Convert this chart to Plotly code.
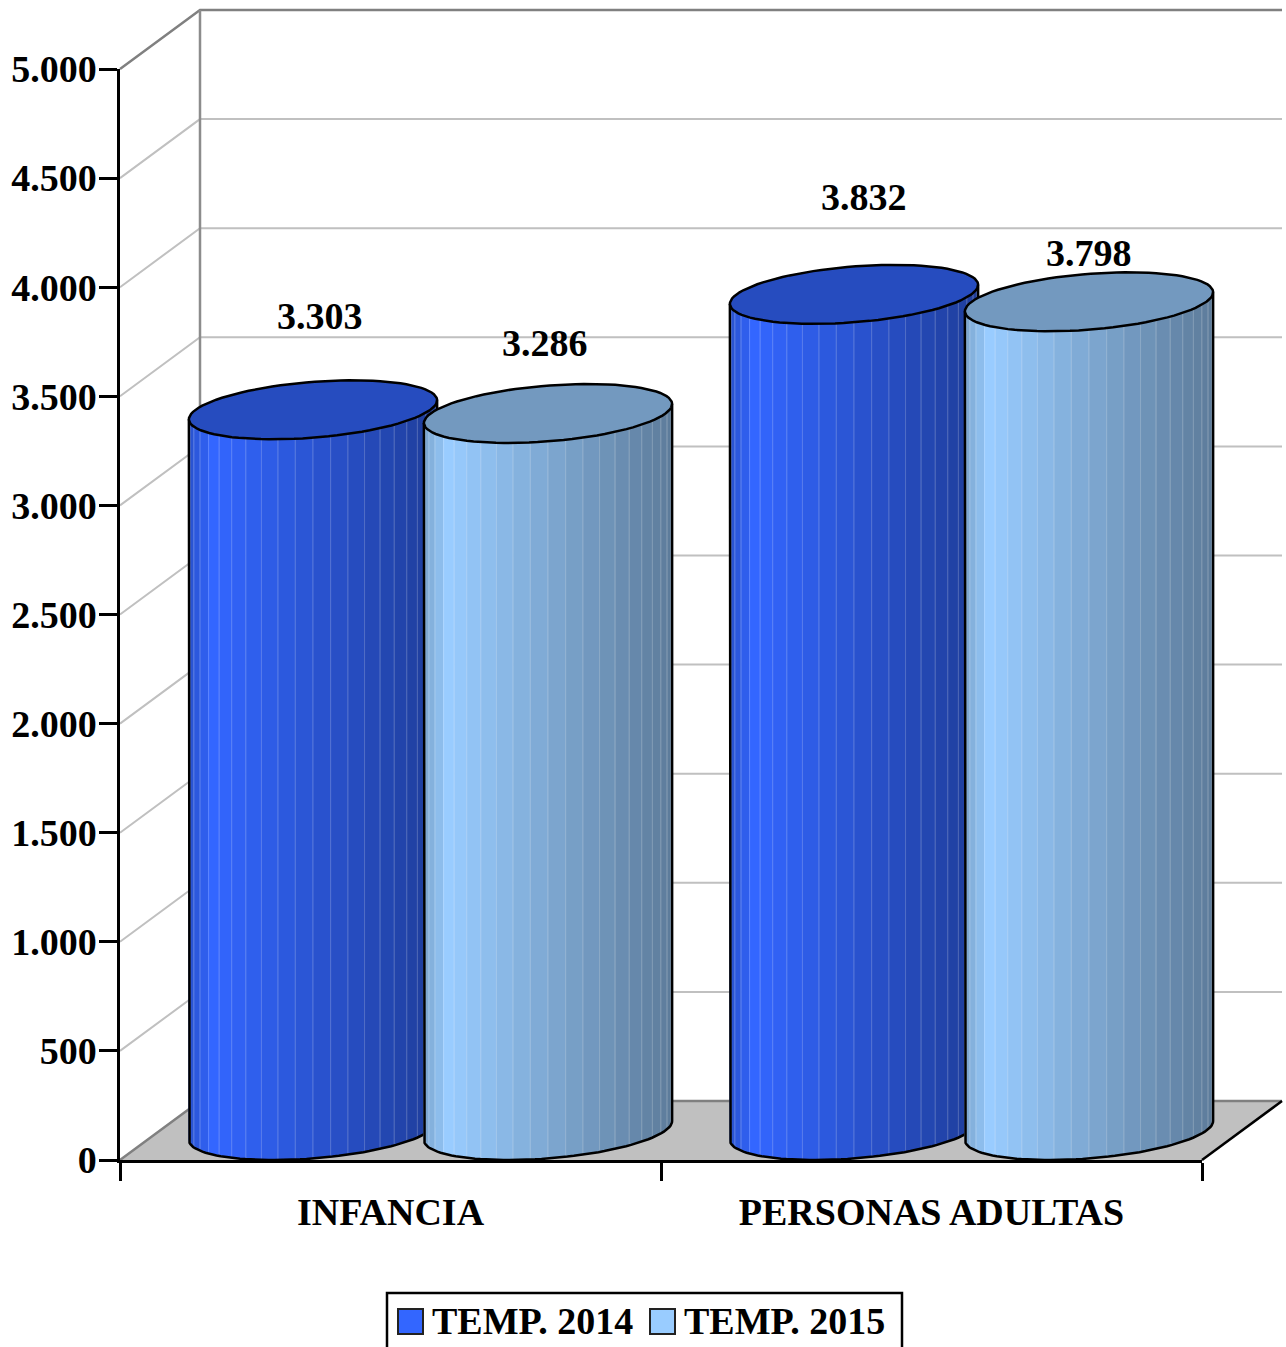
import math
import plotly.graph_objects as go

categories = ["INFANCIA", "PERSONAS ADULTAS"]
series_names = ["TEMP. 2014", "TEMP. 2015"]
temp_2014 = [3303, 3832]
temp_2015 = [3286, 3798]
y_ticks = [0, 500, 1000, 1500, 2000, 2500, 3000, 3500, 4000, 4500, 5000]
series_values = [temp_2014, temp_2015]
series_rgb = [(0x33, 0x66, 0xFF), (0x99, 0xCC, 0xFF)]
# manual placement of each data label in px relative to the top of its cylinder
label_shift = [[(7, 94), (-3, 70)], [(10, 97), (0, 49)]]

W, H = 1286, 1347
L, R, T, B = 120, 1202, 69, 1160
PX_X = (R - L) / 2
PX_Y = (B - T) / 5000
DX, DY = 80 / PX_X, 59 / PX_Y      # depth of the 3D box, in axis units
BAR = 235 / PX_X
A, BX, BY = BAR / 2, DX / 2, DY / 2
FONT = dict(family="Liberation Serif", size=38, color="black", weight="bold")
N_STRIPS = 22
T_R = math.atan2(BX, A)
T_L = T_R + math.pi


def shade(rgb, f):
    return "rgb(%d,%d,%d)" % tuple(round(c * f) for c in rgb)


def factor(u):
    return 0.8 + 2 * u if u < 0.1 else 1 - (u - 0.1) * 0.44


def lighten(rgb, f, extra=0.2):
    return "rgb(%d,%d,%d)" % tuple(round(c * f + (255 - c * f) * extra) for c in rgb)


def ring(cx, base, t):
    return cx + A * math.cos(t) + BX * math.sin(t), base + BY + BY * math.sin(t)


fig = go.Figure()


def add_line(xs, ys, color, width):
    fig.add_trace(go.Scatter(x=xs, y=ys, mode="lines", line=dict(color=color, width=width),
                             hoverinfo="skip", showlegend=False))


# floor
fig.add_trace(go.Scatter(x=[0, 2, 2 + DX, DX, 0], y=[0, 0, DY, DY, 0], mode="lines", fill="toself",
                         fillcolor="#C0C0C0", line=dict(width=0),
                         hoverinfo="skip", showlegend=False))
# walls and gridlines
for v in y_ticks[1:-1]:
    add_line([0, DX, 2 + DX], [v, v + DY, v + DY], "#C0C0C0", 2)
add_line([0, DX, 2 + DX], [5000, 5000 + DY, 5000 + DY], "#808080", 2.5)
add_line([DX, DX], [DY, 5000 + DY], "#8C8C8C", 2.5)
add_line([0, DX, 2 + DX], [0, DY, DY], "#808080", 2.5)
add_line([2, 2 + DX], [0, DY], "black", 2.5)

# cylinders
annotations = []
for c in range(len(categories)):
    for s in range(len(series_names)):
        v = series_values[s][c]
        rgb = series_rgb[s]
        cx = c + 0.5 + (s - 0.5) * BAR + BX
        half = math.hypot(A, BX)
        for i in range(N_STRIPS):
            t0 = T_L + math.pi * i / N_STRIPS
            t1 = T_L + math.pi * (i + 1) / N_STRIPS
            arc = [t0 + (t1 - t0) * k / 3 for k in range(4)]
            low = [ring(cx, 0, t) for t in arc]
            high = [ring(cx, v, t) for t in reversed(arc)]
            pts = low + high + low[:1]
            u = ((low[0][0] + low[-1][0]) / 2 - (cx - half)) / (2 * half)
            f = factor(u)
            fig.add_trace(go.Scatter(x=[p[0] for p in pts], y=[p[1] for p in pts], mode="lines",
                                     fill="toself", fillcolor=shade(rgb, f),
                                     line=dict(color=lighten(rgb, f), width=1),
                                     hoverinfo="skip", showlegend=False))
        # outline of the body
        front = [T_L + math.pi * k / 60 for k in range(61)]
        outline = [ring(cx, v, T_L)] + [ring(cx, 0, t) for t in front] + [ring(cx, v, T_R)]
        add_line([p[0] for p in outline], [p[1] for p in outline], "black", 2.5)
        # top
        whole = [2 * math.pi * k / 90 for k in range(91)]
        top = [ring(cx, v, t) for t in whole]
        fig.add_trace(go.Scatter(x=[p[0] for p in top], y=[p[1] for p in top], mode="lines", fill="toself",
                                 fillcolor=shade(rgb, 0.75), line=dict(color="black", width=2.5),
                                 hoverinfo="skip", showlegend=False, name=series_names[s]))
        sx, sy = label_shift[c][s]
        annotations.append(dict(x=cx, y=v + BY, xref="x", yref="y", showarrow=False,
                                text=f"{v:,}".replace(",", "."), font=FONT,
                                xshift=sx, yshift=sy, xanchor="center", yanchor="middle"))

# the visible axes sit on a second subplot above the geometry
for s in range(len(series_names)):
    fig.add_trace(go.Scatter(x=[c + 0.5 + (s - 0.5) * BAR for c in range(len(categories))],
                             y=series_values[s], mode="markers", marker=dict(opacity=0),
                             name=series_names[s], xaxis="x2", yaxis="y2", showlegend=False))

# legend frame: open at the bottom because the page cuts it off in the reference
px = lambda x: x / W
py = lambda y: 1 - y / H
shapes = [dict(type="path", xref="paper", yref="paper", layer="above",
               path=f"M {px(387)},0 L {px(387)},{py(1293)} L {px(902)},{py(1293)} L {px(902)},0",
               line=dict(color="black", width=2.5))]
for i, name in enumerate(series_names):
    sx = 398 + 252 * i
    shapes.append(dict(type="rect", xref="paper", yref="paper", layer="above",
                       x0=px(sx), x1=px(sx + 25), y0=py(1334), y1=py(1309),
                       line=dict(color="#222222", width=2), fillcolor=shade(series_rgb[i], 1)))
    annotations.append(dict(xref="paper", yref="paper", x=px(sx + 32), y=py(1321),
                            text=name, showarrow=False, font=FONT, xanchor="left", yanchor="middle"))

fig.update_layout(
    width=W, height=H, autosize=False,
    margin=dict(l=0, r=0, t=0, b=0, pad=0, autoexpand=False),
    paper_bgcolor="white", plot_bgcolor="rgba(0,0,0,0)",
    separators=",.", showlegend=False,
    annotations=annotations, shapes=shapes,
    xaxis=dict(domain=[0, 1], range=[-L / PX_X, (W - L) / PX_X], visible=False),
    yaxis=dict(domain=[0, 1], range=[-(H - B) / PX_Y, B / PX_Y], visible=False),
    xaxis2=dict(domain=[px(L), px(R)], range=[0, 2], anchor="y2",
                tickvals=[0.5, 1.5], ticktext=categories, ticks="", tickfont=FONT,
                showgrid=False, zeroline=False, showline=True, linecolor="black", linewidth=3,
                ticklabelstandoff=16,
                minor=dict(tickvals=[0, 1, 2], ticks="outside", ticklen=18, tickwidth=2.5, tickcolor="black")),
    yaxis2=dict(domain=[py(B), py(T)], range=[0, 5000], anchor="x2",
                tickvals=y_ticks, tickformat=",d", tickfont=FONT, ticks="outside", ticklabelstandoff=-5,
                ticklen=18, tickwidth=2.5, tickcolor="black", showgrid=False, zeroline=False,
                showline=True, linecolor="black", linewidth=2.5),
)
fig.write_html("out.html", config={"displayModeBar": False},
               post_script="document.body.style.margin='0';document.documentElement.style.overflow='hidden';")
